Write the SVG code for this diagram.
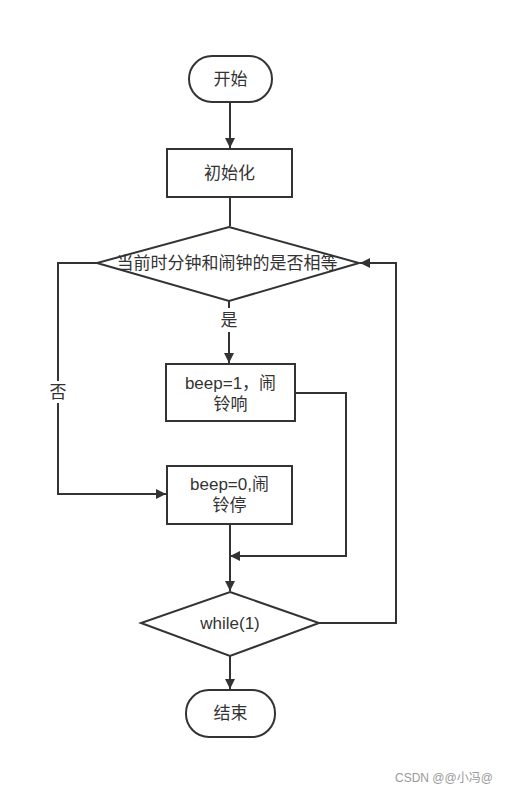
<svg xmlns="http://www.w3.org/2000/svg" width="511" height="794" viewBox="0 0 511 794">
<style>
.shape{fill:#fff;stroke:#333;stroke-width:2}
.line{fill:none;stroke:#333;stroke-width:2}
.t{font-family:"Liberation Sans","Noto Sans CJK SC",sans-serif;font-size:17px;fill:#333;text-anchor:middle;dominant-baseline:central}
.wm{font-family:"Liberation Sans","Noto Sans CJK SC",sans-serif;font-size:12px;fill:#999}
</style>
<defs>
<marker id="arr" viewBox="0 0 10 10" refX="10" refY="5" markerWidth="10" markerHeight="10" markerUnits="userSpaceOnUse" orient="auto">
<path d="M0,0 L10,5 L0,10 z" fill="#333"/>
</marker>
</defs>
<rect width="511" height="794" fill="#fff"/>
<g id="connectors">
<line class="line" x1="230" y1="102" x2="230" y2="148" marker-end="url(#arr)"/>
<line class="line" x1="230" y1="197" x2="230" y2="226"/>
<line class="line" x1="229" y1="301" x2="229" y2="308"/>
<line class="line" x1="229" y1="332" x2="229" y2="363" marker-end="url(#arr)"/>
<polyline class="line" points="295,393 346,393 346,556 230,556" marker-end="url(#arr)"/>
<line class="line" x1="230" y1="524" x2="230" y2="591" marker-end="url(#arr)"/>
<polyline class="line" points="97,263 58,263 58,494 166,494" marker-end="url(#arr)"/>
<polyline class="line" points="319,623 396,623 396,263 360,263" marker-end="url(#arr)"/>
<line class="line" x1="230" y1="656" x2="230" y2="689" marker-end="url(#arr)"/>
<rect x="48" y="381" width="20" height="22" fill="#fff"/>
<text class="t" x="58" y="392">否</text>
<text class="t" x="229" y="320">是</text>
</g>
<g id="start">
<rect class="shape" x="189" y="56" width="83" height="46" rx="23"/>
<text class="t" x="230.5" y="79">开始</text>
</g>
<g id="init">
<rect class="shape" x="167" y="149" width="125" height="48"/>
<text class="t" x="229.5" y="173">初始化</text>
</g>
<g id="cond">
<polygon class="shape" points="229,227 359,263 229,301 97,263"/>
<text class="t" x="227" y="263">当前时分钟和闹钟的是否相等</text>
</g>
<g id="beep1">
<rect class="shape" x="166" y="364" width="129" height="57"/>
<text class="t" x="230.5" y="383">beep=1，闹</text>
<text class="t" x="230.5" y="404">铃响</text>
</g>
<g id="beep0">
<rect class="shape" x="167" y="466" width="125" height="58"/>
<text class="t" x="229.5" y="484">beep=0,闹</text>
<text class="t" x="229.5" y="505">铃停</text>
</g>
<g id="loop">
<polygon class="shape" points="230,592 319,623 230,656 141,623"/>
<text class="t" x="230" y="623">while(1)</text>
</g>
<g id="end">
<rect class="shape" x="186" y="690" width="89" height="47" rx="23"/>
<text class="t" x="230.5" y="713.5">结束</text>
</g>
<text class="wm" x="395" y="782">CSDN @@小冯@</text>
</svg>
